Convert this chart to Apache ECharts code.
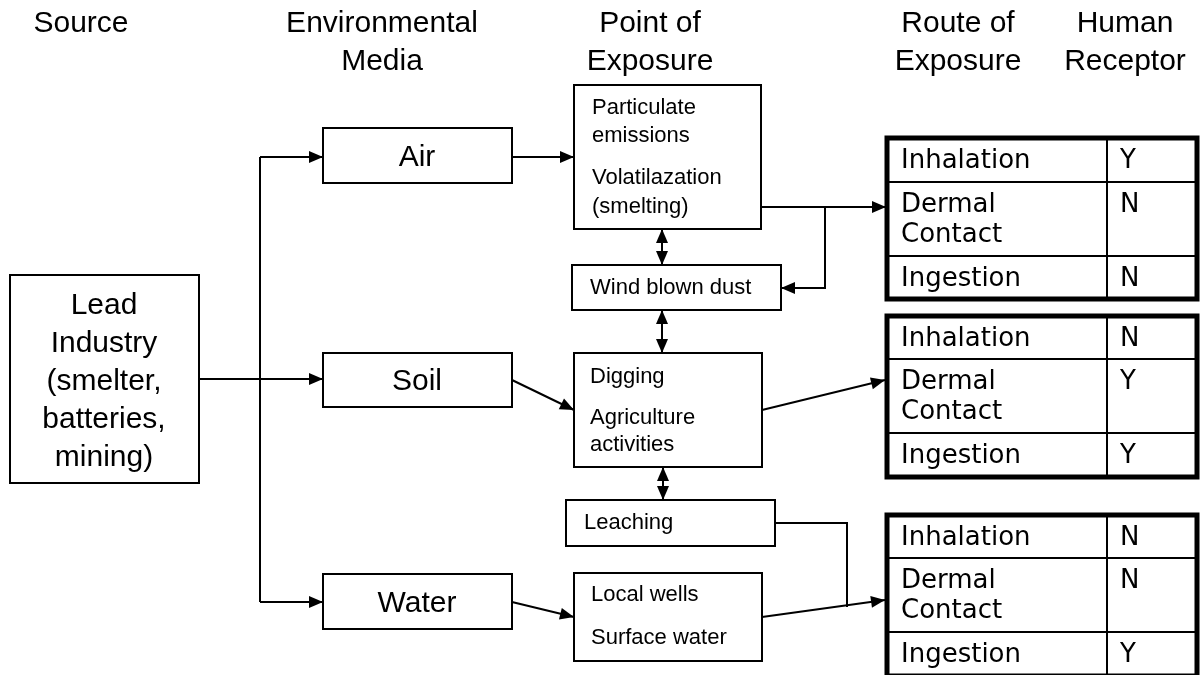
<!DOCTYPE html>
<html>
<head>
<meta charset="utf-8">
<script src="https://cdn.jsdelivr.net/npm/echarts@6/dist/echarts.min.js"></script>
<style>
  html, body { margin: 0; padding: 0; background: #fff; }
  #chart { width: 1200px; height: 675px; }
</style>
</head>
<body>
<div id="chart"></div>
<script>
// column headers
var headers = [
    ['Source'],
    ['Environmental', 'Media'],
    ['Point of', 'Exposure'],
    ['Route of', 'Exposure'],
    ['Human', 'Receptor']
];
var sourceLines = ['Lead', 'Industry', '(smelter,', 'batteries,', 'mining)'];
var media = ['Air', 'Soil', 'Water'];
var exposurePoints = [
    ['Particulate', 'emissions', 'Volatilazation', '(smelting)'],
    ['Wind blown dust'],
    ['Digging', 'Agriculture', 'activities'],
    ['Leaching'],
    ['Local wells', 'Surface water']
];
var routes = [['Inhalation'], ['Dermal', 'Contact'], ['Ingestion']];
var receptorAir = ['Y', 'N', 'N'];
var receptorSoil = ['N', 'Y', 'Y'];
var receptorWater = ['N', 'N', 'Y'];

var chartDom = document.getElementById('chart');
var myChart = echarts.init(chartDom);

var SANS = 'Liberation Sans';
var TABLE_FONT = 'DejaVu Sans';
var els = [];

function txt(x, y, s, size, family, align) {
    els.push({
        type: 'text',
        z: 10,
        style: {
            text: s, x: x, y: y,
            fontSize: size, fontFamily: family, fill: '#000',
            align: align || 'center', verticalAlign: 'middle',
            textAlign: align || 'center', textVerticalAlign: 'middle'
        }
    });
}

function box(x1, y1, x2, y2, lw) {
    els.push({
        type: 'rect',
        z: 2,
        shape: { x: x1, y: y1, width: x2 - x1, height: y2 - y1 },
        style: { fill: '#fff', stroke: '#000', lineWidth: lw || 2 }
    });
}

function line(points, lw) {
    els.push({
        type: 'polyline',
        z: 3,
        shape: { points: points },
        style: { stroke: '#000', lineWidth: lw || 2, fill: null }
    });
}

function head(tip, from) {
    var dx = tip[0] - from[0], dy = tip[1] - from[1];
    var len = Math.sqrt(dx * dx + dy * dy);
    var ux = dx / len, uy = dy / len;
    var L = 14, W = 6;
    var bx = tip[0] - ux * L, by = tip[1] - uy * L;
    els.push({
        type: 'polygon',
        z: 4,
        shape: { points: [tip, [bx - uy * W, by + ux * W], [bx + uy * W, by - ux * W]] },
        style: { fill: '#000' }
    });
}

function arrow(points, both) {
    line(points);
    var n = points.length;
    head(points[n - 1], points[n - 2]);
    if (both) head(points[0], points[1]);
}

// headers
var headerX = [81, 382, 650, 958, 1125];
headers.forEach(function (h, i) {
    h.forEach(function (s, j) { txt(headerX[i], 24 + j * 38, s, 30, SANS); });
});

// source box
box(10, 275, 199, 483);
sourceLines.forEach(function (s, j) { txt(104, 306 + j * 38, s, 30, SANS); });

// media boxes
var mediaY = [[128, 183], [353, 407], [574, 629]];
media.forEach(function (m, i) {
    box(323, mediaY[i][0], 512, mediaY[i][1]);
    txt(417, (mediaY[i][0] + mediaY[i][1]) / 2 + 2, m, 30, SANS);
});

// source -> media
line([[260, 157], [260, 602]]);
arrow([[199, 379], [323, 379]]);
arrow([[260, 157], [323, 157]]);
arrow([[260, 602], [323, 602]]);

// point of exposure boxes
var poeBoxes = [
    { r: [574, 85, 761, 229], x: 592, ys: [108, 136, 178, 207] },
    { r: [572, 265, 781, 310], x: 590, ys: [288] },
    { r: [574, 353, 762, 467], x: 590, ys: [377, 418, 445] },
    { r: [566, 500, 775, 546], x: 584, ys: [523] },
    { r: [574, 573, 762, 661], x: 591, ys: [595, 638] }
];
exposurePoints.forEach(function (p, i) {
    var b = poeBoxes[i];
    box(b.r[0], b.r[1], b.r[2], b.r[3]);
    p.forEach(function (s, j) { txt(b.x, b.ys[j], s, 22, SANS, 'left'); });
});

// media -> exposure points
arrow([[512, 157], [574, 157]]);
arrow([[512, 380], [574, 410]]);
arrow([[512, 602], [574, 617]]);
arrow([[662, 229], [662, 265]], true);
arrow([[662, 310], [662, 353]], true);
arrow([[663, 467], [663, 500]], true);

// exposure points -> route tables
arrow([[761, 207], [886, 207]]);
arrow([[825, 207], [825, 288], [781, 288]]);
arrow([[762, 410], [885, 380]]);
line([[775, 523], [847, 523], [847, 607]]);
arrow([[762, 617], [885, 600]]);

// route / receptor tables
var tableL = 887, tableR = 1197, colX = 1107;
var tables = [
    { rows: [138, 182, 256, 299], vals: receptorAir },
    { rows: [316, 359, 433, 477], vals: receptorSoil },
    { rows: [515, 558, 632, 676], vals: receptorWater }
];
tables.forEach(function (t) {
    var r = t.rows;
    line([[tableL, r[1]], [tableR, r[1]]], 2);
    line([[tableL, r[2]], [tableR, r[2]]], 2);
    line([[colX, r[0]], [colX, r[3]]], 2);
    els.push({
        type: 'rect', z: 5,
        shape: { x: tableL, y: r[0], width: tableR - tableL, height: r[3] - r[0] },
        style: { fill: null, stroke: '#000', lineWidth: 5 }
    });
    routes.forEach(function (rt, k) {
        rt.forEach(function (s, j) { txt(901, r[k] + 23 + j * 30, s, 26, TABLE_FONT, 'left'); });
        txt(1120, r[k] + 23, t.vals[k], 26, TABLE_FONT, 'left');
    });
});

function _plotFigure() {
    var option = {
        backgroundColor: '#fff',
        animation: false,
        graphic: { elements: els }
    };
    myChart.setOption(option);
}
_plotFigure();
</script>
</body>
</html>
